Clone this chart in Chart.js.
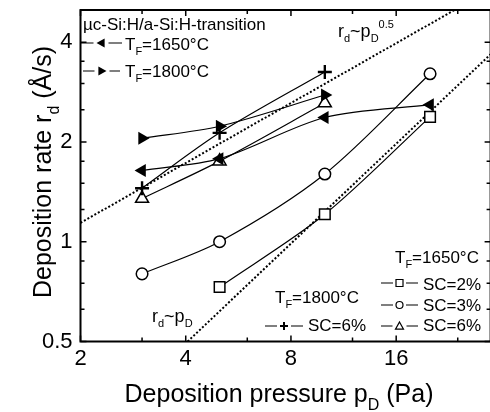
<!DOCTYPE html>
<html>
<head>
<meta charset="utf-8">
<script src="https://cdn.jsdelivr.net/npm/chart.js@4/dist/chart.umd.min.js"></script>
<style>
  html, body { margin: 0; padding: 0; background: #fff; overflow: hidden; }
  #wrap { position: absolute; left: 0; top: 0; width: 500px; height: 412px; }
</style>
</head>
<body>
<div id="wrap"><canvas id="chart"></canvas></div>
<script>
// deposition pressure p_D (Pa)
const pressure = [3, 5, 10, 20];

// deposition rate r_d (Å/s), T_F = 1650 °C
const sc2_1650 = [null, 0.73, 1.21, 2.38];
const sc3_1650 = [0.80, 1.00, 1.60, 3.21];
const sc6_1650 = [1.35, 1.75, 2.62, null];
// T_F = 1800 °C
const sc6_1800 = [1.45, 2.13, 3.25, null];
// µc-Si:H / a-Si:H transition
const trans_1650 = [1.64, 1.78, 2.37, 2.59];
const trans_1800 = [2.05, 2.23, 2.77, null];

// guide lines
const guideHalfP = [2, 23.5];
const guideHalfR = [1.14, 5.0];
const guideOneP = [4.05, 30];
const guideOneR = [0.5, 3.7];

const xTicks = [2, 3, 4, 6, 8, 12, 16, 24];
const xLabels = [2, 4, 8, 16];
const yTicks = [0.5, 0.625, 0.75, 0.875, 1, 1.25, 1.5, 1.75, 2, 2.5, 3, 3.5, 4];
const yLabels = [0.5, 1, 2, 4];

const FONT = '"Liberation Sans", Arial, sans-serif';
Chart.defaults.font.family = FONT;
Chart.defaults.color = '#000';

const pts = vals => pressure.map((p, i) => ({ x: p, y: vals[i] })).filter(d => d.y != null);
const guide = (ps, rs) => ps.map((p, i) => ({ x: p, y: rs[i] }));

function series(vals, style, opts) {
  return Object.assign({
    data: pts(vals),
    borderColor: '#000',
    borderWidth: 1.2,
    pointStyle: style,
    pointRadius: 6,
    pointBorderColor: '#000',
    pointBackgroundColor: '#fff',
    pointBorderWidth: 1.5,
    tension: 0.3
  }, opts || {});
}

function rich(ctx, parts, x, y, size, draw) {
  let cx = x;
  parts.forEach(([t, m]) => {
    const s = m ? Math.round(size * 0.62) : size;
    ctx.font = s + 'px ' + FONT;
    const dy = m === 1 ? size * 0.3 : m === 2 ? -size * 0.5 : 0;
    if (draw !== false) ctx.fillText(t, cx, y + dy);
    cx += ctx.measureText(t).width;
  });
  return cx - x;
}

function marker(ctx, kind, x, y, r) {
  ctx.beginPath();
  if (kind === 'rect') {
    ctx.rect(x - r, y - r, 2 * r, 2 * r);
    ctx.fillStyle = '#fff'; ctx.fill(); ctx.stroke();
  } else if (kind === 'circle') {
    ctx.arc(x, y, r, 0, Math.PI * 2);
    ctx.fillStyle = '#fff'; ctx.fill(); ctx.stroke();
  } else if (kind === 'up') {
    ctx.moveTo(x, y - r); ctx.lineTo(x + r, y + r * 0.8); ctx.lineTo(x - r, y + r * 0.8); ctx.closePath();
    ctx.fillStyle = '#fff'; ctx.fill(); ctx.stroke();
  } else if (kind === 'left') {
    ctx.moveTo(x - r, y); ctx.lineTo(x + r * 0.8, y - r); ctx.lineTo(x + r * 0.8, y + r); ctx.closePath();
    ctx.fillStyle = '#000'; ctx.fill();
  } else if (kind === 'right') {
    ctx.moveTo(x + r, y); ctx.lineTo(x - r * 0.8, y - r); ctx.lineTo(x - r * 0.8, y + r); ctx.closePath();
    ctx.fillStyle = '#000'; ctx.fill();
  } else if (kind === 'plus') {
    ctx.lineWidth = 2;
    ctx.moveTo(x - r, y); ctx.lineTo(x + r, y); ctx.moveTo(x, y - r); ctx.lineTo(x, y + r); ctx.stroke();
  }
}

function legendRow(ctx, kind, x1, x2, xm, y, r) {
  ctx.lineWidth = 1.2;
  ctx.strokeStyle = '#000';
  ctx.beginPath();
  ctx.moveTo(x1, y); ctx.lineTo(xm - r - 3, y);
  ctx.moveTo(xm + r + 3, y); ctx.lineTo(x2, y);
  ctx.stroke();
  marker(ctx, kind, xm, y, r);
}

const decor = {
  id: 'decor',
  afterDraw(chart) {
    const { ctx, chartArea: a, scales: { x, y } } = chart;
    ctx.save();
    ctx.strokeStyle = '#000';
    ctx.fillStyle = '#000';
    ctx.lineWidth = 1.5;
    ctx.beginPath();
    xTicks.forEach(v => {
      const px = x.getPixelForValue(v);
      const len = xLabels.includes(v) ? 6 : 4;
      ctx.moveTo(px, a.bottom); ctx.lineTo(px, a.bottom - len);
      ctx.moveTo(px, a.top); ctx.lineTo(px, a.top + len);
    });
    yTicks.forEach(v => {
      const py = y.getPixelForValue(v);
      const len = yLabels.includes(v) ? 6 : 4;
      ctx.moveTo(a.left, py); ctx.lineTo(a.left + len, py);
      ctx.moveTo(a.right, py); ctx.lineTo(a.right - len, py);
    });
    ctx.stroke();
    ctx.lineWidth = 2;
    ctx.strokeRect(a.left, a.top, a.right - a.left, a.bottom - a.top);

    // axis titles
    ctx.fillStyle = '#000';
    ctx.textBaseline = 'alphabetic';
    const xt = [['Deposition pressure p', 0], ['D', 1], [' (Pa)', 0]];
    const xw = rich(ctx, xt, 0, 0, 25, false);
    rich(ctx, xt, 279 - xw / 2, 402, 25);
    const yt = [['Deposition rate r', 0], ['d', 1], [' (Å/s)', 0]];
    const yw = rich(ctx, yt, 0, 0, 25, false);
    ctx.save();
    ctx.translate(51, 172);
    ctx.rotate(-Math.PI / 2);
    rich(ctx, yt, -yw / 2, 0, 25);
    ctx.restore();

    // guide labels
    rich(ctx, [['r', 0], ['d', 1], ['~p', 0], ['D', 1], ['0.5', 2]], 338, 37, 18);
    rich(ctx, [['r', 0], ['d', 1], ['~p', 0], ['D', 1]], 152, 322, 18);

    // legend, upper left
    rich(ctx, [['µc-Si:H/a-Si:H-transition', 0]], 83, 30, 17);
    legendRow(ctx, 'left', 81, 122, 101, 43, 4.5);
    legendRow(ctx, 'right', 83, 120, 102, 71, 4.5);
    ctx.fillStyle = '#000';
    rich(ctx, [['T', 0], ['F', 1], ['=1650°C', 0]], 125, 50, 17);
    rich(ctx, [['T', 0], ['F', 1], ['=1800°C', 0]], 125, 77, 17);

    // legend, lower right
    rich(ctx, [['T', 0], ['F', 1], ['=1650°C', 0]], 395, 263, 17);
    legendRow(ctx, 'rect', 381, 418, 399.5, 283, 3.5);
    legendRow(ctx, 'circle', 381, 418, 399.5, 305, 3.5);
    legendRow(ctx, 'up', 381, 418, 399.5, 326, 4);
    legendRow(ctx, 'plus', 265, 303, 284, 326, 4);
    ctx.fillStyle = '#000';
    rich(ctx, [['SC=2%', 0]], 423, 290, 17);
    rich(ctx, [['SC=3%', 0]], 423, 311, 17);
    rich(ctx, [['SC=6%', 0]], 423, 331, 17);
    rich(ctx, [['T', 0], ['F', 1], ['=1800°C', 0]], 275, 303, 17);
    rich(ctx, [['SC=6%', 0]], 308, 331, 17);
    ctx.restore();
  }
};

new Chart(document.getElementById('chart'), {
  type: 'line',
  data: {
    datasets: [
      series(trans_1650, 'triangle', { rotation: -90, pointRadius: 7.5, pointBackgroundColor: '#000', pointBorderWidth: 0 }),
      series(trans_1800, 'triangle', { rotation: 90, pointRadius: 7.5, pointBackgroundColor: '#000', pointBorderWidth: 0 }),
      series(sc6_1800, 'cross', { pointRadius: 7, pointBorderWidth: 2.4 }),
      series(sc6_1650, 'triangle', { pointRadius: 7.5 }),
      series(sc3_1650, 'circle', { pointRadius: 5.8 }),
      series(sc2_1650, 'rect', { pointRadius: 7.5 }),
      { data: guide(guideHalfP, guideHalfR), borderColor: '#000', borderWidth: 2, borderDash: [2, 2], pointRadius: 0 },
      { data: guide(guideOneP, guideOneR), borderColor: '#000', borderWidth: 2, borderDash: [2, 2], pointRadius: 0 }
    ]
  },
  options: {
    responsive: true,
    maintainAspectRatio: false,
    animation: false,
    layout: { padding: { left: 0, top: 10, right: 8, bottom: 0 } },
    plugins: { legend: { display: false }, tooltip: { enabled: false } },
    scales: {
      x: {
        type: 'logarithmic', min: 2, max: 29.8,
        grid: { display: false, drawTicks: false },
        border: { display: false },
        afterBuildTicks: s => { s.ticks = xTicks.map(v => ({ value: v })); },
        afterFit: s => { s.height = 70.5; s.paddingLeft = 0; s.paddingRight = 0; },
        ticks: {
          autoSkip: false, maxRotation: 0, padding: 4, color: '#000', font: { size: 22 },
          callback: v => xLabels.includes(v) ? String(v) : ''
        }
      },
      y: {
        type: 'logarithmic', min: 0.5, max: 5,
        grid: { display: false, drawTicks: false },
        border: { display: false },
        afterBuildTicks: s => { s.ticks = yTicks.map(v => ({ value: v })); },
        afterFit: s => { s.width = 80.5; s.paddingTop = 0; s.paddingBottom = 0; },
        ticks: {
          autoSkip: false, padding: 8, color: '#000', font: { size: 22 },
          callback: v => yLabels.includes(v) ? String(v) : ''
        }
      }
    }
  },
  plugins: [decor]
});
</script>
</body>
</html>
